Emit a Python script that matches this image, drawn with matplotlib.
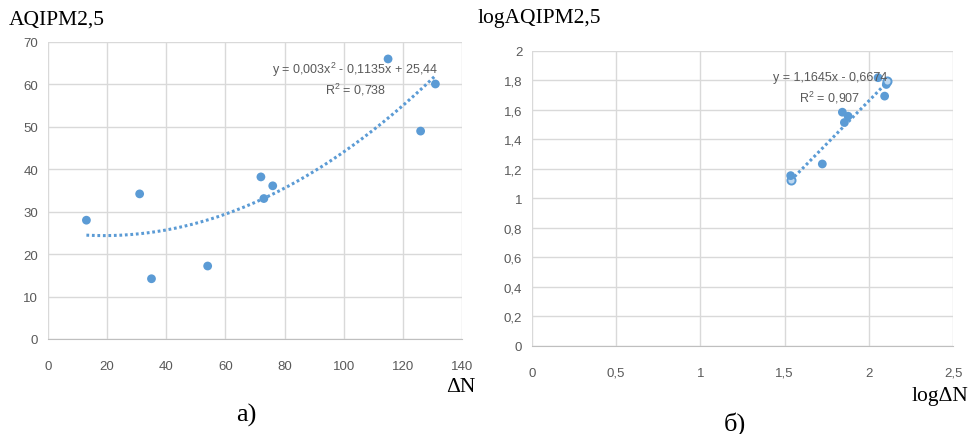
import matplotlib
matplotlib.use("Agg")
import matplotlib.pyplot as plt
import numpy as np

# a) AQIPM2,5 vs dN
dn = [13, 31, 35, 54, 72, 73, 76, 115, 126, 131]
aqi = [28, 34.2, 14.2, 17.2, 38.2, 33.1, 36.1, 66, 49, 60.1]
poly_a = [0.003, -0.1135, 25.44]
eq_a = "y = 0,003x$^2$ - 0,1135x + 25,44"
r2_a = "R$^2$ = 0,738"

# b) log-log
log_dn = [1.536, 1.536, 1.724, 1.843, 1.855, 1.877, 2.055, 2.094, 2.104, 2.108]
log_aqi = [1.126, 1.155, 1.234, 1.585, 1.515, 1.558, 1.819, 1.694, 1.773, 1.796]
hollow = [True, False, False, False, False, False, False, False, False, True]
poly_b = [1.1645, -0.6674]
eq_b = "y = 1,1645x - 0,6674"
r2_b = "R$^2$ = 0,907"

xticks_a = [0, 20, 40, 60, 80, 100, 120, 140]
yticks_a = [0, 10, 20, 30, 40, 50, 60, 70]
xticks_b = [0, 0.5, 1, 1.5, 2, 2.5]
yticks_b = [0, 0.2, 0.4, 0.6, 0.8, 1, 1.2, 1.4, 1.6, 1.8, 2]

blue = "#5b9bd5"
gray = "#595959"
sans = ["Liberation Sans", "DejaVu Sans"]
serif = ["Liberation Serif", "DejaVu Serif"]
plt.rcParams["mathtext.fontset"] = "custom"
plt.rcParams["mathtext.rm"] = "Liberation Sans"


def fmt(v):
    return ("%g" % v).replace(".", ",")


def style(ax, xt, yt):
    ax.set_xticks(xt)
    ax.set_yticks(yt)
    ax.set_xticklabels([fmt(v) for v in xt], family=sans, fontsize=9.5, color=gray)
    ax.set_yticklabels([fmt(v) for v in yt], family=sans, fontsize=9.5, color=gray)
    ax.set_xlim(xt[0], xt[-1])
    ax.set_ylim(yt[0], yt[-1])
    ax.grid(True, color="#d9d9d9", linewidth=1)
    ax.set_axisbelow(True)
    for s in ["top", "right", "left"]:
        ax.spines[s].set_visible(False)
    ax.spines["bottom"].set_color("#bfbfbf")
    ax.tick_params(length=0)
    ax.tick_params(axis="x", pad=15)
    ax.tick_params(axis="y", pad=7)


fig = plt.figure(figsize=(9.69, 4.35), dpi=100)
ax1 = fig.add_axes([0.0495, 0.2184, 0.4273, 0.6828])
ax2 = fig.add_axes([0.549, 0.2023, 0.4345, 0.6782])

dots = (0, (0.9, 0.9))

# left chart
style(ax1, xticks_a, yticks_a)
xx = np.linspace(min(dn), max(dn), 200)
ax1.plot(xx, np.polyval(poly_a, xx), color=blue, linewidth=2.2,
         linestyle=dots, zorder=2)
ax1.scatter(dn, aqi, s=40, color=blue, zorder=3, edgecolors="none")
ax1.text(104, 63.6, eq_a, ha="center", va="center", family=sans, fontsize=9, color=gray)
ax1.text(104, 58.9, r2_a, ha="center", va="center", family=sans, fontsize=9, color=gray)

# right chart
style(ax2, xticks_b, yticks_b)
xb = np.linspace(min(log_dn), max(log_dn), 50)
ax2.plot(xb, np.polyval(poly_b, xb), color=blue, linewidth=2.2,
         linestyle=dots, zorder=2)
for x, y, h in zip(log_dn, log_aqi, hollow):
    if h:
        ax2.scatter([x], [y], s=34, facecolor="#bcd7f0", edgecolors=blue, linewidths=1.4, zorder=3)
    else:
        ax2.scatter([x], [y], s=40, color=blue, edgecolors="none", zorder=3)
ax2.text(1.768, 1.825, eq_b, ha="center", va="center", family=sans, fontsize=9, color=gray)
ax2.text(1.768, 1.69, r2_b, ha="center", va="center", family=sans, fontsize=9, color=gray)

# labels in figure coordinates
fig.text(9 / 969, 1 - 20 / 435, "AQIPM2,5", ha="left", va="center", fontsize=15.5, family=serif)
fig.text(475 / 969, 1 - 388 / 435, "ΔN", ha="right", va="center", fontsize=15.5, family=serif)
fig.text(246 / 969, 1 - 415 / 435, "a)", ha="center", va="center", fontsize=19, family=serif)
fig.text(478 / 969, 1 - 19 / 435, "logAQIPM2,5", ha="left", va="center", fontsize=15.5, family=serif)
fig.text(968 / 969, 1 - 397 / 435, "logΔN", ha="right", va="center", fontsize=15.5, family=serif)
fig.text(735 / 969, 1 - 424 / 435, "б)", ha="center", va="center", fontsize=19, family=serif)

fig.savefig("out.png", dpi=100)
